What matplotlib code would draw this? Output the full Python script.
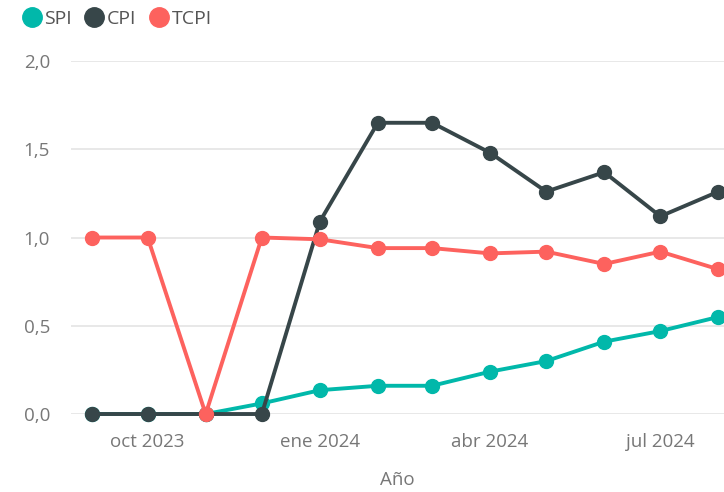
import numpy as np
import matplotlib.pyplot as plt
from matplotlib.lines import Line2D

plt.rcParams['font.family'] = ['Open Sans', 'DejaVu Sans']

# data (monthly, sep 2023 - aug 2024)
months = np.array(['2023-09-01', '2023-10-01', '2023-11-01', '2023-12-01',
                   '2024-01-01', '2024-02-01', '2024-03-01', '2024-04-01',
                   '2024-05-01', '2024-06-01', '2024-07-01', '2024-08-01'],
                  dtype='datetime64[D]')
spi = [0.0, 0.0, 0.0, 0.06, 0.135, 0.16, 0.16, 0.24, 0.30, 0.41, 0.47, 0.55]
cpi = [0.0, 0.0, 0.0, 0.0, 1.09, 1.65, 1.65, 1.48, 1.26, 1.37, 1.12, 1.26]
tcpi = [1.0, 1.0, 0.0, 1.0, 0.99, 0.94, 0.94, 0.91, 0.92, 0.85, 0.92, 0.82]

tick_dates = np.array(['2023-10-01', '2024-01-01', '2024-04-01', '2024-07-01'],
                      dtype='datetime64[D]')
tick_labels = ['oct 2023', 'ene 2024', 'abr 2024', 'jul 2024']
y_ticks = [0.0, 0.5, 1.0, 1.5, 2.0]
y_labels = ['0,0', '0,5', '1,0', '1,5', '2,0']

c_spi = '#01B8AA'
c_cpi = '#374649'
c_tcpi = '#FD625E'
grey = '#777777'

fig = plt.figure(figsize=(7.24, 4.92), dpi=100)
ax = fig.add_axes([0.098, 0.1585, 0.902, 0.7175])

x = months.astype('datetime64[ms]').astype(object)
kw = dict(lw=2.8, marker='o', markersize=10, clip_on=False, solid_capstyle='round')
ax.plot(x, spi, color=c_spi, zorder=3, **kw)
ax.plot(x, cpi, color=c_cpi, zorder=4, **kw)
ax.plot(x, tcpi, color=c_tcpi, zorder=5, **kw)

ax.set_xlim(np.datetime64('2023-08-21').astype(object), np.datetime64('2024-08-04').astype(object))
ax.set_ylim(0, 2)
ax.set_yticks(y_ticks)
ax.set_yticklabels(y_labels)
ax.set_xticks(tick_dates.astype('datetime64[ms]').astype(object))
ax.set_xticklabels(tick_labels)
ax.grid(axis='y', color='#E4E4E4', lw=1.2)
ax.set_axisbelow(True)
for s in ax.spines.values():
    s.set_visible(False)
ax.tick_params(length=0, colors=grey, labelsize=13.5)
ax.tick_params(axis='y', pad=15)
ax.tick_params(axis='x', pad=14)
ax.set_xlabel('Año', color=grey, fontsize=13.5, labelpad=14)

handles = [Line2D([], [], ls='', marker='o', markersize=14, color=c)
           for c in (c_spi, c_cpi, c_tcpi)]
fig.legend(handles, ['SPI', 'CPI', 'TCPI'], loc='upper left',
           bbox_to_anchor=(0.002, 1.015), ncol=3, frameon=False,
           handletextpad=0.0, columnspacing=0.5, handlelength=1.3,
           labelcolor='#555555', fontsize=14)

fig.savefig('out.png', dpi=100)
